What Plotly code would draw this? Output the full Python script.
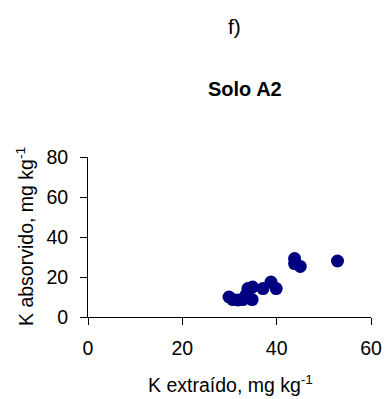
import plotly.graph_objects as go

x_vals = [29.9, 30.7, 31.8, 32.8, 33.9, 34.9, 34.8, 33.5, 37.1, 38.8, 39.9, 43.8, 43.8, 45.0, 52.9]
y_vals = [10.0, 8.7, 8.5, 8.7, 14.2, 15.0, 8.7, 11.0, 14.2, 17.5, 14.2, 29.2, 26.7, 25.3, 28.0]
x_ticks = [0, 20, 40, 60]
y_ticks = [0, 20, 40, 60, 80]

FONT = "Liberation Sans, Arial, sans-serif"
W, H = 386, 399
ML, MR, MT, MB = 88, 15, 157, 82

fig = go.Figure()
fig.add_trace(go.Scatter(x=x_vals, y=y_vals, mode="markers",
                         marker=dict(color="#000080", size=13, line=dict(width=0)),
                         showlegend=False, cliponaxis=False))

fig.update_layout(
    template="none",
    width=W, height=H,
    margin=dict(l=ML, r=MR, t=MT, b=MB, pad=0),
    paper_bgcolor="white", plot_bgcolor="white",
    font=dict(family=FONT, size=19.5, color="black"),
    xaxis=dict(range=[0, 60], tickvals=x_ticks, showgrid=False, zeroline=False,
               showline=True, linecolor="black", linewidth=1,
               ticks="outside", ticklen=7, tickcolor="black", tickwidth=1,
               ticklabelstandoff=7, automargin=False, fixedrange=True),
    yaxis=dict(range=[0, 80], tickvals=y_ticks, showgrid=False, zeroline=False,
               showline=True, linecolor="black", linewidth=1,
               ticks="outside", ticklen=7, tickcolor="black", tickwidth=1,
               ticklabelstandoff=8, automargin=False, fixedrange=True),
)

pw, ph = W - ML - MR, H - MT - MB

def ann(text, px, py, size=19.5, angle=0):
    fig.add_annotation(text=text, xref="paper", yref="paper",
                       x=(px - ML) / pw, y=(H - py - MB) / ph,
                       xanchor="center", yanchor="middle", showarrow=False,
                       textangle=angle, font=dict(size=size))

ann("f)", 234, 26, size=21)
ann("<b>Solo A2</b>", 245, 89, size=20)
ann("K extraído, mg kg<sup>-1</sup>", 230, 384)
ann("K absorvido, mg kg<sup>-1</sup>", 25, 237, angle=-90)

fig.write_html("out.html")
